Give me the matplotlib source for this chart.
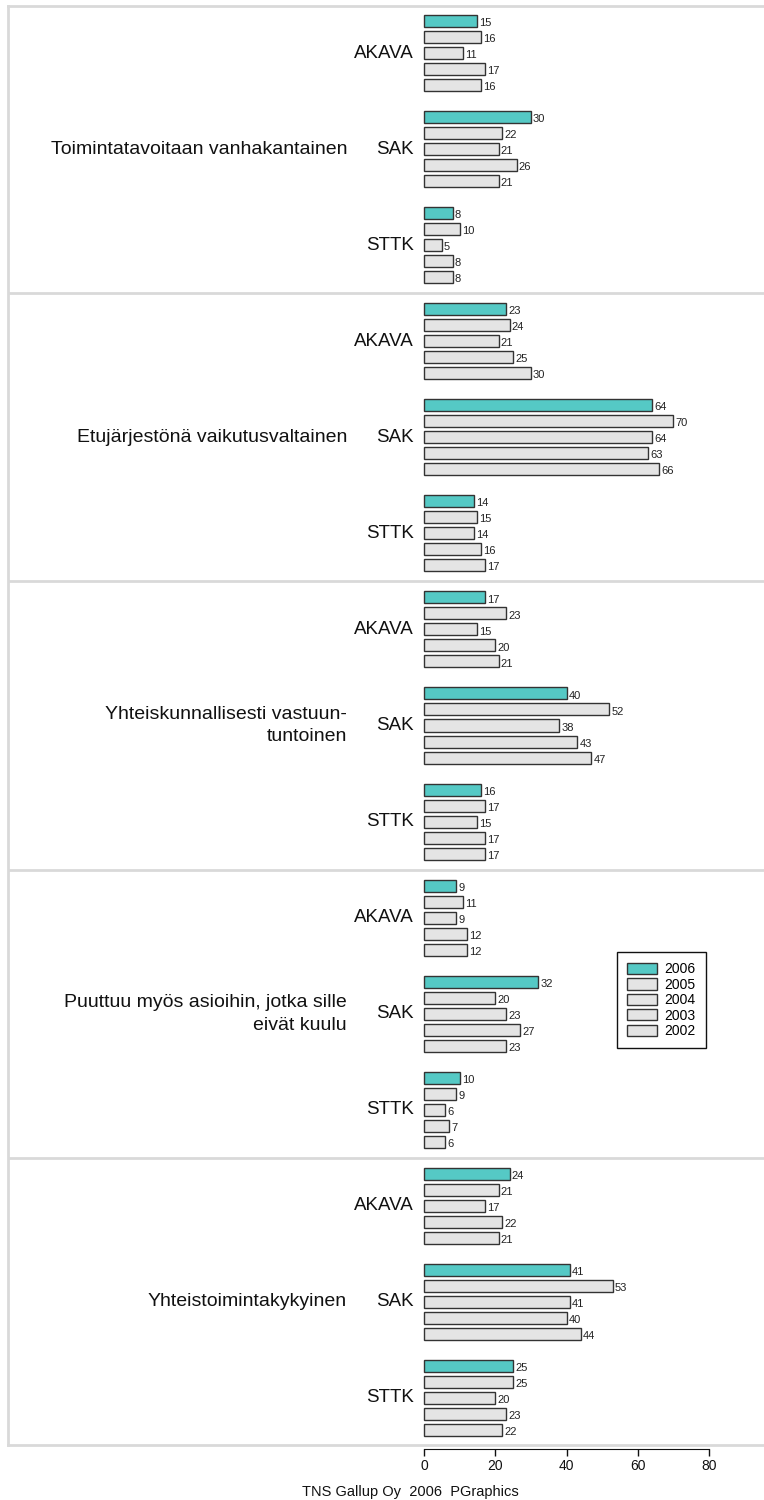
import matplotlib
matplotlib.use("Agg")
import matplotlib.pyplot as plt
from matplotlib.patches import Patch

plt.rcParams["font.family"] = ["Liberation Sans", "DejaVu Sans"]

statements = [
    "Toimintatavoitaan vanhakantainen",
    "Etujärjestönä vaikutusvaltainen",
    "Yhteiskunnallisesti vastuun-\ntuntoinen",
    "Puuttuu myös asioihin, jotka sille\neivät kuulu",
    "Yhteistoimintakykyinen",
]
orgs = ["AKAVA", "SAK", "STTK"]
years = ["2006", "2005", "2004", "2003", "2002"]

# values per year, ordered statement by statement, AKAVA / SAK / STTK
v2006 = [15, 30, 8, 23, 64, 14, 17, 40, 16, 9, 32, 10, 24, 41, 25]
v2005 = [16, 22, 10, 24, 70, 15, 23, 52, 17, 11, 20, 9, 21, 53, 25]
v2004 = [11, 21, 5, 21, 64, 14, 15, 38, 15, 9, 23, 6, 17, 41, 20]
v2003 = [17, 26, 8, 25, 63, 16, 20, 43, 17, 12, 27, 7, 22, 40, 23]
v2002 = [16, 21, 8, 30, 66, 17, 21, 47, 17, 12, 23, 6, 21, 44, 22]
series = [v2006, v2005, v2004, v2003, v2002]

TEAL = "#55c9c5"
GREY = "#e4e4e4"
FRAME = "#d9d9d9"
colors = [TEAL] + [GREY] * 4

W, H = 764, 1500
fig = plt.figure(figsize=(W / 100, H / 100), dpi=100)
ax = fig.add_axes([8 / W, 1 - 1445 / H, 1 - 8 / W, (1445 - 6) / H])

n_years = len(years)
group_step = n_years + 1
section_step = group_step * len(orgs)

for j, vals in enumerate(series):
    ys = []
    for k in range(len(vals)):
        s, g = divmod(k, len(orgs))
        ys.append(s * section_step + g * group_step + j)
    ax.barh(ys, vals, height=0.75, color=colors[j], edgecolor="#333333", linewidth=1.0)
    for y, v in zip(ys, vals):
        ax.annotate(str(v), (v, y), xytext=(1.5, -1.5), textcoords="offset points",
                    ha="left", va="center", fontsize=8, color="#222222")

for s, label in enumerate(statements):
    base = s * section_step
    for g, org in enumerate(orgs):
        ax.text(-2.8, base + g * group_step + 2, org, ha="right", va="center",
                fontsize=13.5, color="#111111")
    ax.text(-21.6, base + group_step + 2, label, ha="right", va="center",
            fontsize=14, color="#111111", linespacing=1.45)
    if s > 0:
        ax.axhline(base - 1, color=FRAME, linewidth=2)

total = section_step * len(statements)
bottom = total - 2 + 0.94
ax.set_ylim(bottom, -0.94)
ax.set_xlim((8 - 424) / 3.5625, (W - 424) / 3.5625)
ax.set_yticks([])
ax.set_xticks([0, 20, 40, 60, 80])
ax.tick_params(axis="x", direction="out", length=5, width=1, labelsize=10, pad=2, colors="#111111")

for side in ["left", "top"]:
    ax.spines[side].set_color(FRAME)
    ax.spines[side].set_linewidth(2)
ax.spines["right"].set_visible(False)
ax.spines["bottom"].set_bounds(0, 80)
ax.spines["bottom"].set_position(("outward", 3))
ax.spines["bottom"].set_color("#111111")
ax.axhline(bottom, color=FRAME, linewidth=2, clip_on=False)

handles = [Patch(facecolor=c, edgecolor="#333333", linewidth=1.0) for c in colors]
fig.legend(handles, years, loc="upper left", bbox_to_anchor=(617 / W, 1 - 952 / H),
           borderaxespad=0, fancybox=False, framealpha=1, edgecolor="#111111",
           fontsize=10, handlelength=2.1, handleheight=0.85, labelspacing=0.1,
           handletextpad=0.55, borderpad=0.75)

fig.text(410 / W, 1 - 1492 / H, "TNS Gallup Oy  2006  PGraphics", ha="center", va="center",
         fontsize=10.5, color="#111111")

fig.savefig("out.png", dpi=100)
